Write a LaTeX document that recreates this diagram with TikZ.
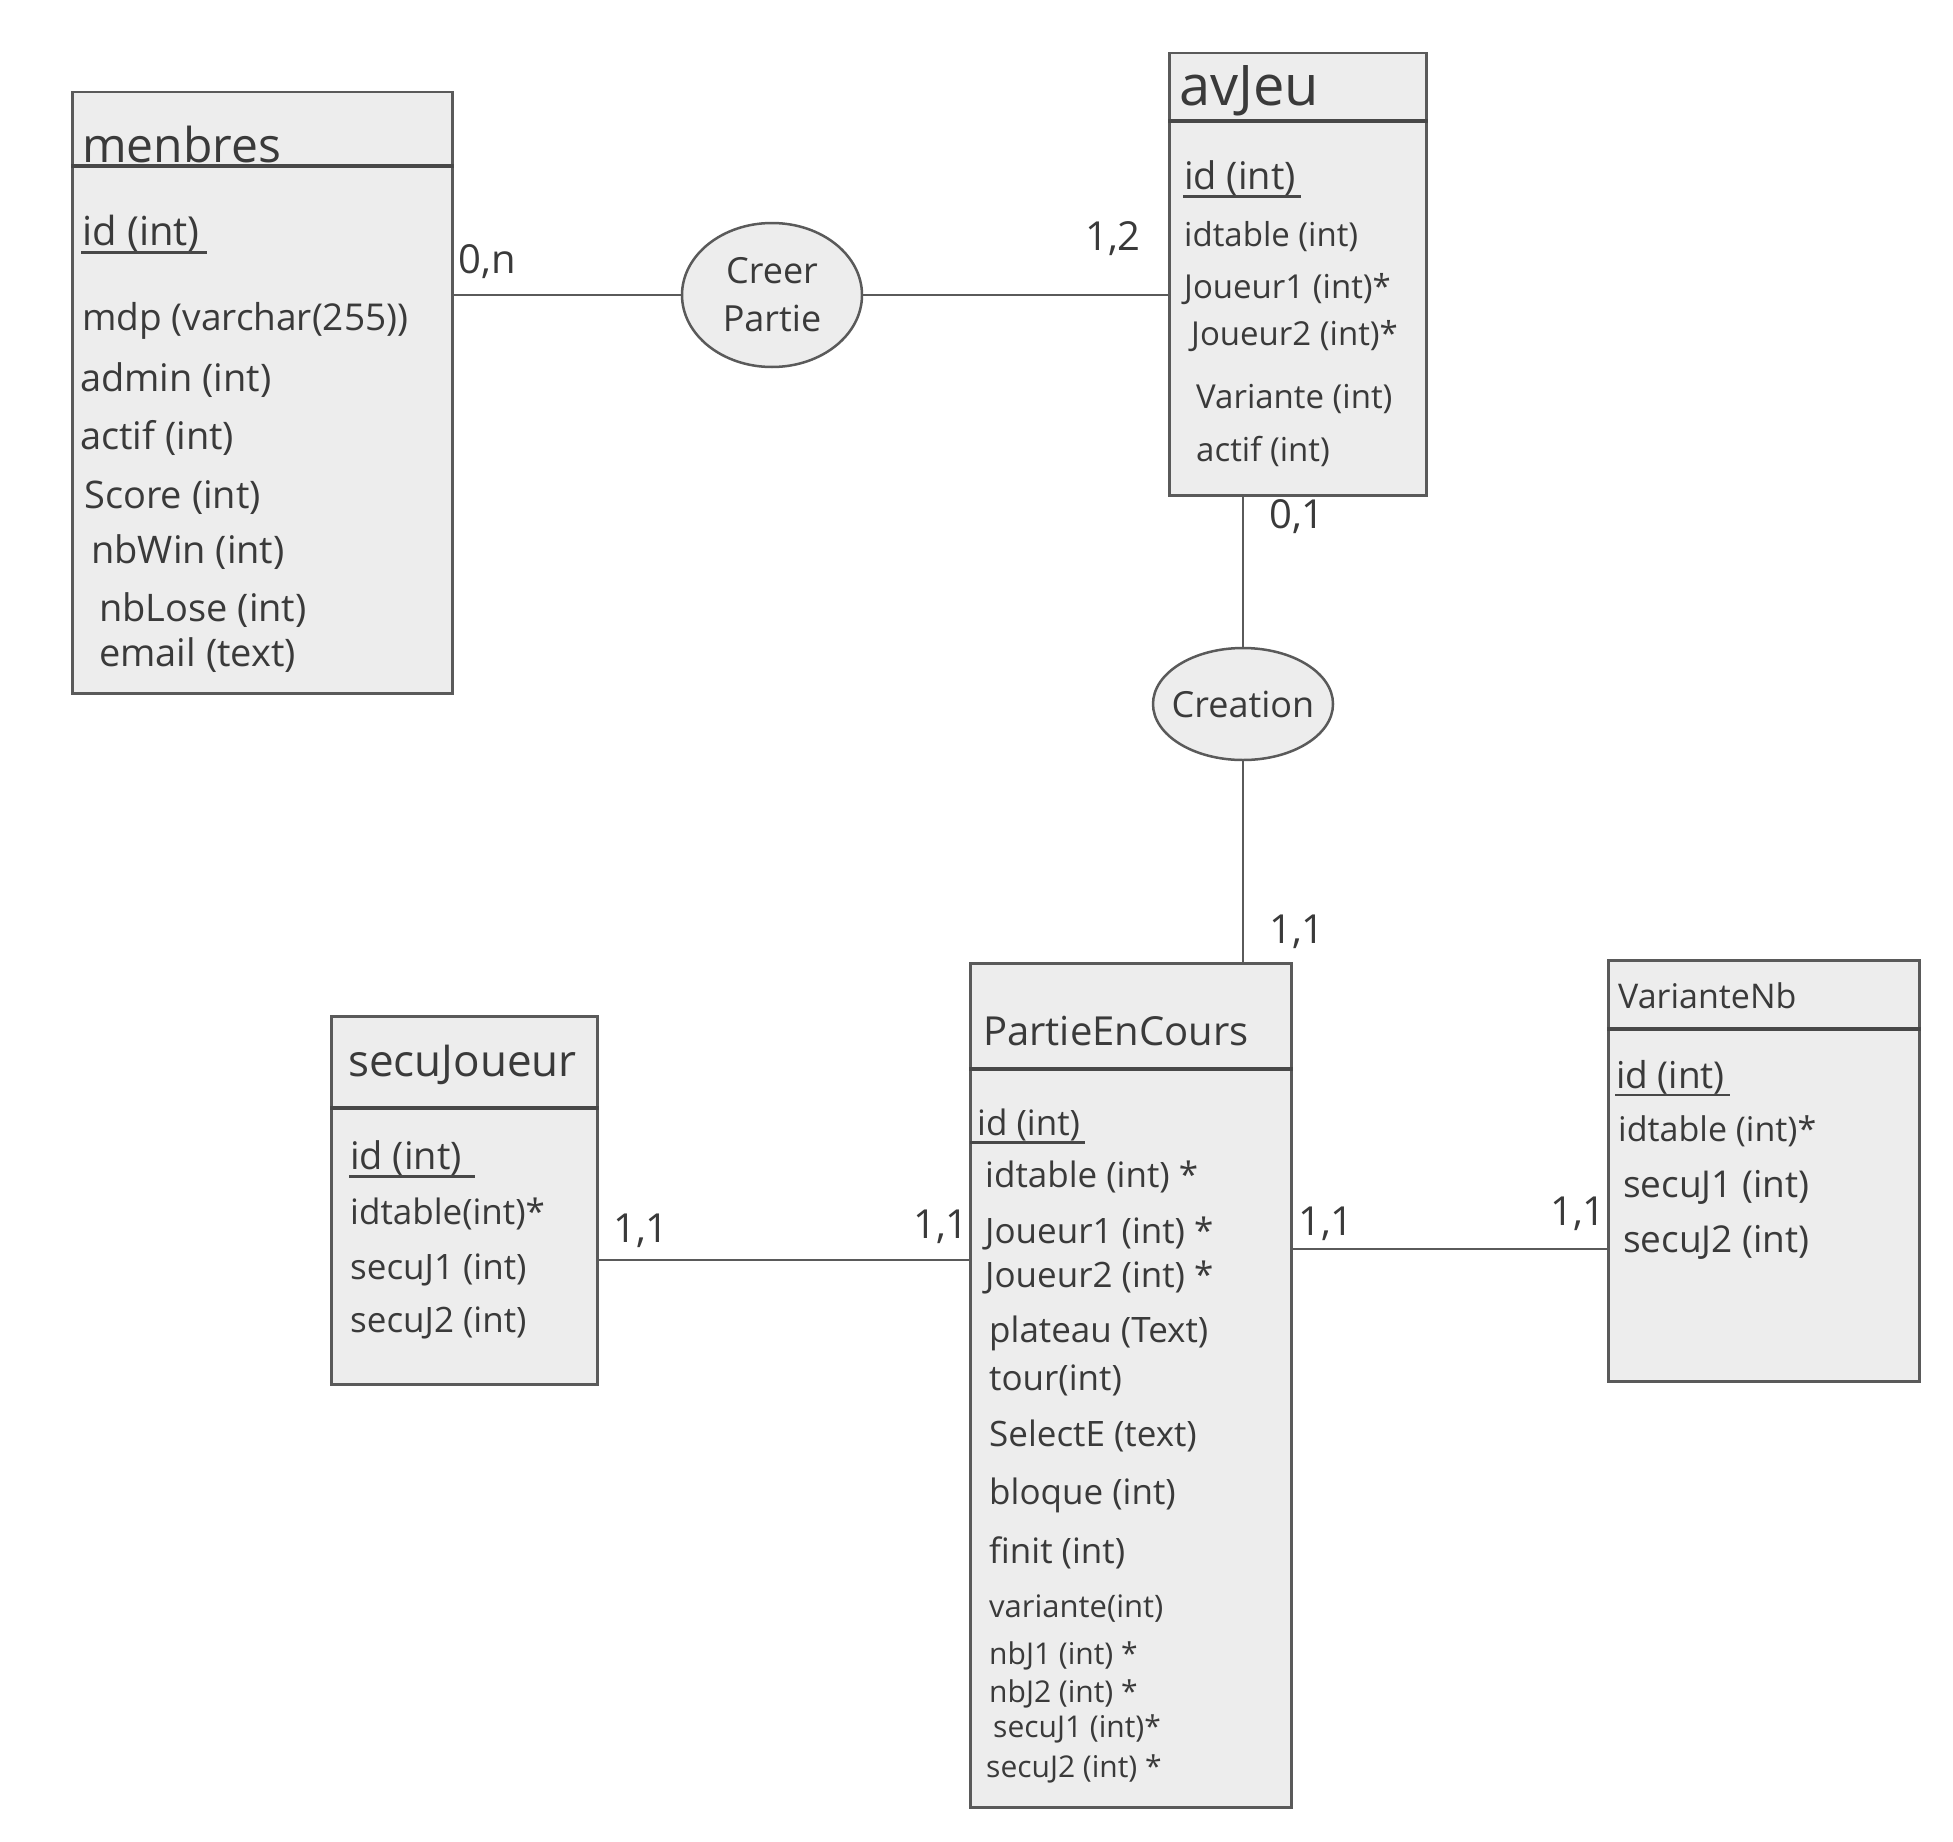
\documentclass[tikz,border=0pt]{standalone}
\usepackage{fontspec}
\setmainfont{Open Sans}
\usetikzlibrary{shapes.geometric,calc}
\definecolor{pencil}{HTML}{5A5A5A}
\definecolor{boxfill}{HTML}{EDEDED}
\definecolor{ink}{HTML}{3A3A3A}
\begin{document}
\begin{tikzpicture}[x=1pt,y=-1pt,
  entity/.style={draw=pencil, line width=2.5pt, fill=boxfill, anchor=north west, inner sep=0pt},
  headline/.style={draw=pencil!80!black, line width=4.5pt},
  conn/.style={draw=pencil, line width=1.8pt},
  uline/.style={draw=pencil!80!black, line width=2.5pt},
  rel/.style={ellipse, draw=pencil, line width=2.5pt, fill=boxfill, inner ysep=0pt, inner xsep=-22pt, align=center, text=ink, font=\fontsize{36}{48}\selectfont},
  ttl/.style={anchor=west, inner sep=1pt, text=ink, font=\fontsize{40}{48}\selectfont},
  attr/.style={anchor=west, inner sep=1pt, text=ink, font=\fontsize{#1}{#1}\selectfont},
  attr/.default=28,
  card/.style={inner sep=1pt, text=ink, font=\fontsize{40}{46}\selectfont}
]
\useasboundingbox[fill=white] (0,0) rectangle (1953,1841);

% ---------- membres ----------
\node[entity, minimum width=380pt, minimum height=601pt] (membres) at (71,91) {};
\draw[headline] ($(membres.north west)+(0,75)$) -- ($(membres.north east)+(0,75)$);
\node[ttl, font=\fontsize{48}{56}\selectfont] (mtitle) at (81,144) {menbres};
\node[attr=40] (mid) at (81,233) {id (int)};
\draw[uline] (mid.south west) -- ([xshift=6pt]mid.south east);
\node[attr=37] (mmdp) at (81,321) {mdp (varchar(255))};
\node[attr=38] (madmin) at (79,380) {admin (int)};
\node[attr=38] (mactif) at (79,438) {actif (int)};
\node[attr=38] (mscore) at (83,498) {Score (int)};
\node[attr=38] (mwin) at (90,552) {nbWin (int)};
\node[attr=38] (mlose) at (98,610) {nbLose (int)};
\node[attr=38] (memail) at (98,655) {email (text)};

% ---------- avJeu ----------
\node[entity, minimum width=257pt, minimum height=442pt] (avjeu) at (1168,52) {};
\draw[headline] ($(avjeu.north west)+(0,69)$) -- ($(avjeu.north east)+(0,69)$);
\node[ttl, font=\fontsize{56}{62}\selectfont] (atitle) at (1178,91) {avJeu};
\node[attr=38] (aid) at (1183,178) {id (int)};
\draw[uline] (aid.south west) -- ([xshift=4pt]aid.south east);
\node[attr=33] (aidt) at (1183,237) {idtable (int)};
\node[attr=33] (aj1) at (1183,289) {Joueur1 (int)*};
\node[attr=33] (aj2) at (1190,336) {Joueur2 (int)*};
\node[attr=33] (avar) at (1195,399) {Variante (int)};
\node[attr=33] (aactif) at (1195,451) {actif (int)};

% ---------- Creer Partie ----------
\node[rel, minimum width=180pt, minimum height=144pt] (creer) at (772,295) {Creer\\Partie};

% ---------- Creation ----------
\node[rel, minimum width=180pt, minimum height=112pt] (creation) at (1243,704) {Creation};

% ---------- PartieEnCours ----------
\node[entity, minimum width=321pt, minimum height=844pt] (partie) at (969,962) {};
\draw[headline] ($(partie.north west)+(0,107)$) -- ($(partie.north east)+(0,107)$);
\node[ttl] (ptitle) at (982,1031) {PartieEnCours};
\node[attr=35] (pid) at (976,1125) {id (int)};
\draw[uline] ([xshift=-6pt]pid.south west) -- ([xshift=4pt]pid.south east);
\node[attr=35] (pidt) at (984,1177) {idtable (int) *};
\node[attr=35] (pj1) at (984,1233) {Joueur1 (int) *};
\node[attr=35] (pj2) at (984,1277) {Joueur2 (int) *};
\node[attr=35] (pplat) at (988,1333) {plateau (Text)};
\node[attr=35] (ptour) at (988,1380) {tour(int)};
\node[attr=35] (psel) at (988,1436) {SelectE (text)};
\node[attr=35] (pbloq) at (988,1495) {bloque (int)};
\node[attr=35] (pfin) at (988,1553) {finit (int)};
\node[attr=31] (pvar) at (988,1609) {variante(int)};
\node[attr=30] (pnb1) at (988,1656) {nbJ1 (int) *};
\node[attr=30] (pnb2) at (988,1694) {nbJ2 (int) *};
\node[attr=30] (ps1) at (992,1729) {secuJ1 (int)*};
\node[attr=30] (ps2) at (985,1769) {secuJ2 (int) *};

% ---------- secuJoueur ----------
\node[entity, minimum width=266pt, minimum height=368pt] (secu) at (330,1015) {};
\draw[headline] ($(secu.north west)+(0,93)$) -- ($(secu.north east)+(0,93)$);
\node[ttl, font=\fontsize{44}{50}\selectfont] (stitle) at (347,1065) {secuJoueur};
\node[attr=38] (sid) at (349,1158) {id (int)};
\draw[uline] (sid.south west) -- ([xshift=12pt]sid.south east);
\node[attr=35] (sidt) at (349,1214) {idtable(int)*};
\node[attr=35] (ss1) at (349,1270) {secuJ1 (int)};
\node[attr=35] (ss2) at (349,1323) {secuJ2 (int)};

% ---------- VarianteNb ----------
\node[entity, minimum width=311pt, minimum height=421pt] (variante) at (1607,959) {};
\draw[headline] ($(variante.north west)+(0,70)$) -- ($(variante.north east)+(0,70)$);
\node[ttl, font=\fontsize{34}{40}\selectfont] (vtitle) at (1617,996) {VarianteNb};
\node[attr=37] (vid) at (1615,1077) {id (int)};
\draw[uline] (vid.south west) -- ([xshift=4pt]vid.south east);
\node[attr=34] (vidt) at (1617,1131) {idtable (int)*};
\node[attr=37] (vs1) at (1622,1187) {secuJ1 (int)};
\node[attr=37] (vs2) at (1622,1242) {secuJ2 (int)};

% ---------- connectors ----------
\draw[conn] (membres.east |- creer.west) -- (creer.west);
\draw[conn] (creer.east) -- (creer.east -| avjeu.west);
\draw[conn] (creation.north |- avjeu.south) -- (creation.north);
\draw[conn] (creation.south) -- (creation.south |- partie.north);
\coordinate (lsecu) at ($(secu.north east)+(0,245)$);
\draw[conn] (lsecu) -- (lsecu -| partie.west);
\coordinate (lvar) at ($(partie.north east)+(0,287)$);
\draw[conn] (lvar) -- (lvar -| variante.west);

% ---------- cardinalities ----------
\node[card] (c1) at (487,262) {0,n};
\node[card] (c2) at (1113,239) {1,2};
\node[card] (c3) at (1297,517) {0,1};
\node[card] (c4) at (1297,932) {1,1};
\node[card] (c5) at (641,1231) {1,1};
\node[card] (c6) at (941,1227) {1,1};
\node[card] (c7) at (1326,1224) {1,1};
\node[card] (c8) at (1578,1214) {1,1};
\end{tikzpicture}
\end{document}
